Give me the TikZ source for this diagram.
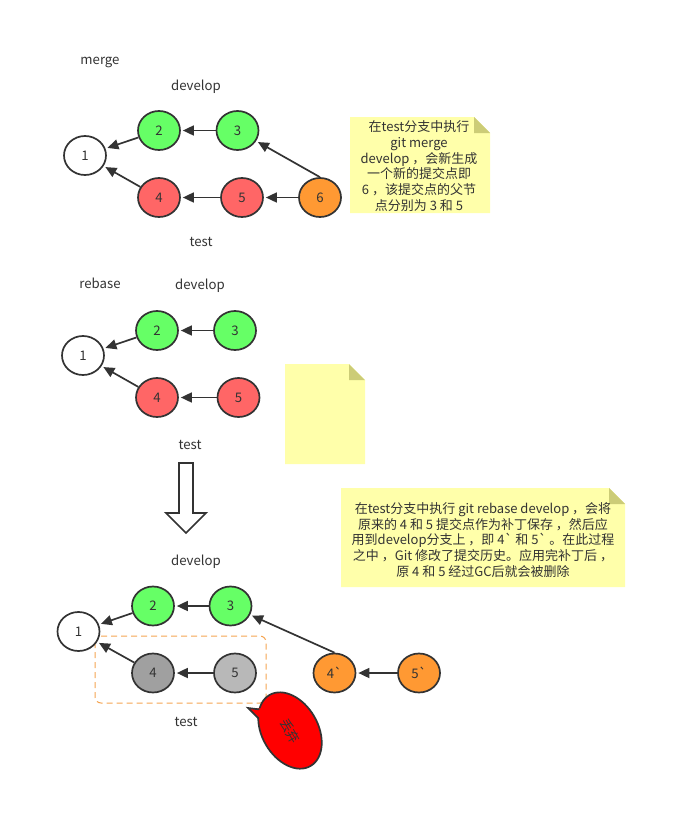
\documentclass[tikz,border=0pt]{standalone}
\usepackage{fontspec}
\setmainfont{Noto Sans CJK SC}[Ligatures=TeXOff]
\usetikzlibrary{arrows.meta,shapes.geometric}
\definecolor{ink}{HTML}{333333}
\definecolor{cgreen}{HTML}{66FF66}
\definecolor{cred}{HTML}{FF6666}
\definecolor{corange}{HTML}{FF9933}
\definecolor{cgrayA}{HTML}{A0A0A0}
\definecolor{cgrayB}{HTML}{B8B8B8}
\definecolor{notefill}{HTML}{FFFFAA}
\definecolor{notefold}{HTML}{CCCC77}
\definecolor{dashor}{HTML}{F5A552}
\newcommand\bq{\symbol{96}}
\begin{document}
\begin{tikzpicture}[x=1pt,y=-1pt,
  font=\fontsize{13.2}{16}\selectfont, text=ink,
  commit/.style={ellipse, draw=ink, line width=1.7pt, minimum width=42pt, minimum height=39pt, inner sep=0pt},
  arr/.style={draw=ink, line width=1.7pt, -{Triangle[length=11pt,width=10pt]}, shorten >=2pt},
  lbl/.style={inner sep=0pt},
  notebody/.style={fill=notefill},
  notetext/.style={align=center, inner sep=0pt, font=\fontsize{13}{15.8}\selectfont}
]
\useasboundingbox (0,0) rectangle (688,838);

% ---------- merge ----------
\node[lbl] (lmerge) at (100,62) {merge};
\node[lbl] (ldev1) at (196,87) {develop};
\node[lbl] (ltest1) at (201,242) {test};
\node[commit, fill=white] (m1) at (85,155.5) {1};
\node[commit, fill=cgreen] (m2) at (159,130.5) {2};
\node[commit, fill=cgreen] (m3) at (237.5,130.5) {3};
\node[commit, fill=cred] (m4) at (159,197.5) {4};
\node[commit, fill=cred] (m5) at (242,197.5) {5};
\node[commit, fill=corange] (m6) at (320,197.5) {6};
\draw[arr] (m2) -- (m1);
\draw[arr] (m3) -- (m2);
\draw[arr] (m4) -- (m1);
\draw[arr] (m5) -- (m4);
\draw[arr] (m6) -- (m5);
\draw[arr] (m6.north) -- (m3);

\fill[notebody] (350,117) -- (474,117) -- (490,133) -- (490,213) -- (350,213) -- cycle;
\fill[notefold] (474,117) -- (490,133) -- (474,133) -- cycle;
\node[notetext] (note1) at (419,166) {在test分支中执行\\git merge\\develop ，会新生成\\一个新的提交点即\\6 ，该提交点的父节\\点分别为 3 和 5};

% ---------- rebase ----------
\node[lbl] (lrebase) at (100,283) {rebase};
\node[lbl] (ldev2) at (200,286) {develop};
\node[lbl] (ltest2) at (190,445) {test};
\node[commit, fill=white] (r1) at (83,355.5) {1};
\node[commit, fill=cgreen] (r2) at (157,330.5) {2};
\node[commit, fill=cgreen] (r3) at (235,330.5) {3};
\node[commit, fill=cred] (r4) at (157,397.5) {4};
\node[commit, fill=cred] (r5) at (238.5,397.5) {5};
\draw[arr] (r2) -- (r1);
\draw[arr] (r3) -- (r2);
\draw[arr] (r4) -- (r1);
\draw[arr] (r5) -- (r4);

\fill[notebody] (285,364) -- (349,364) -- (365,380) -- (365,464) -- (285,464) -- cycle;
\fill[notefold] (349,364) -- (365,380) -- (349,380) -- cycle;

% big down arrow
\draw[ink, line width=1.7pt, fill=white, line join=miter]
  (179,463) -- (193,463) -- (193,513) -- (206,513) -- (186,533) -- (166,513) -- (179,513) -- cycle;

% note 2
\fill[notebody] (341,488) -- (609,488) -- (625,504) -- (625,587) -- (341,587) -- cycle;
\fill[notefold] (609,488) -- (625,504) -- (609,504) -- cycle;
\node[notetext] (note2) at (483,540) {在test分支中执行 git rebase develop ，会将\\原来的 4 和 5 提交点作为补丁保存 ，然后应\\用到develop分支上 ，即 4\bq{} 和 5\bq{} 。在此过程\\之中 ，Git 修改了提交历史。应用完补丁后 ，\\原 4 和 5 经过GC后就会被删除};

% ---------- after rebase ----------
\node[lbl] (ldev3) at (196,562) {develop};
\node[lbl] (ltest3) at (186,722) {test};
\draw[dashor, line width=1pt, dash pattern=on 6pt off 4pt, rounded corners=6pt] (95,636) rectangle (266,703);
\node[commit, fill=white] (t1) at (78.5,631.5) {1};
\node[commit, fill=cgreen] (t2) at (153,606) {2};
\node[commit, fill=cgreen] (t3) at (230.5,606) {3};
\node[commit, fill=cgrayA] (t4) at (153,673) {4};
\node[commit, fill=cgrayB] (t5) at (235,673) {5};
\node[commit, fill=corange] (t4p) at (334.5,673) {4\bq};
\node[commit, fill=corange] (t5p) at (419,673) {5\bq};
\draw[arr] (t2) -- (t1);
\draw[arr] (t3) -- (t2);
\draw[arr] (t4) -- (t1);
\draw[arr] (t5) -- (t4);
\draw[arr] (t4p.north) -- (t3);
\draw[arr] (t5p) -- (t4p);

% discard callout
\draw[ink, line width=1.7pt, fill=red, rotate around={-60:(290,730.5)}] (290,730.5) ellipse (41 and 28);
\fill[red] (261,708.5) -- (248,708) -- (261,719.5) -- cycle;
\draw[ink, line width=1.7pt, line join=miter] (259.3,709.4) -- (248,708) -- (258.8,718.6);
\node[inner sep=0pt, rotate=-60, font=\fontsize{13}{14}\selectfont] (discard) at (290,731) {丢弃};
\end{tikzpicture}
\end{document}
